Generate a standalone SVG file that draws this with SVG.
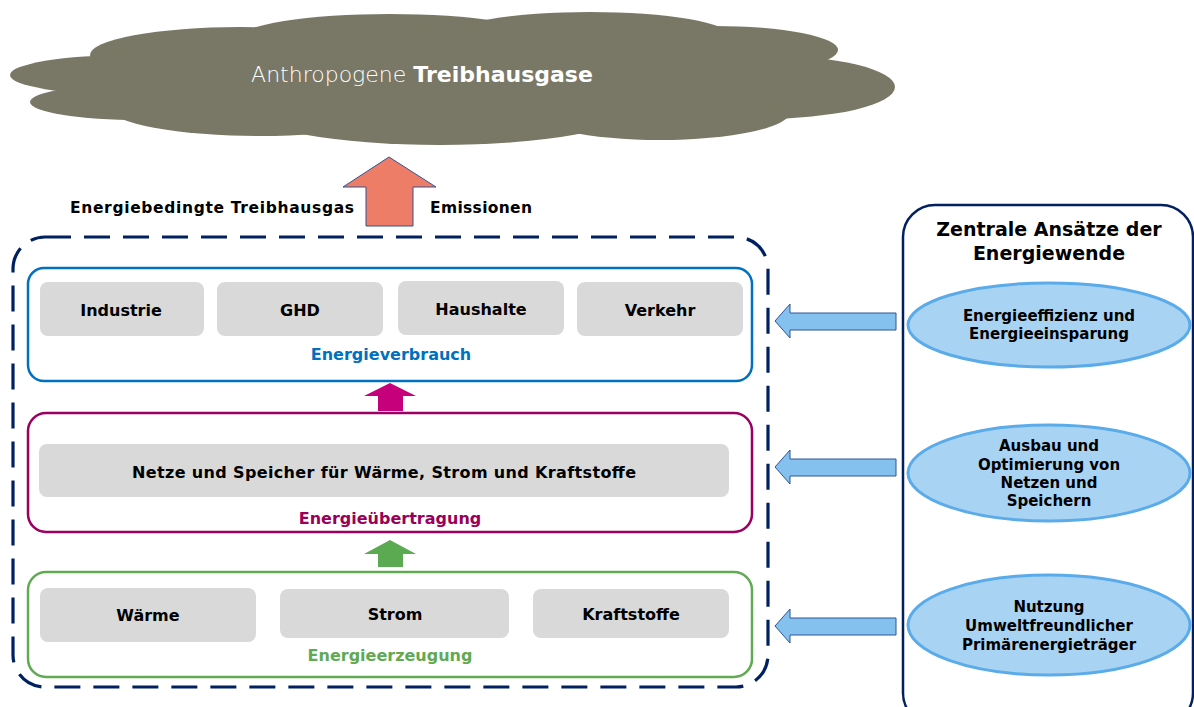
<svg xmlns="http://www.w3.org/2000/svg" width="1194" height="707" viewBox="0 0 1194 707">
<style>
.t{font-family:"DejaVu Sans","Liberation Sans",sans-serif;font-weight:bold;fill:#000;text-anchor:middle}
.gray{fill:#D9D9D9}
.cloud ellipse{fill:#797866}
.la{fill:#85C1EF;stroke:#2F5597;stroke-width:1}
.ell{fill:#A9D3F3;stroke:#5AABEA;stroke-width:3}
</style>
<rect width="1194" height="707" fill="#fff"/>
<g id="cloud" class="cloud">
<ellipse cx="130" cy="75" rx="120" ry="20"/>
<ellipse cx="140" cy="102" rx="110" ry="18"/>
<ellipse cx="240" cy="55" rx="150" ry="28"/>
<ellipse cx="390" cy="38" rx="150" ry="24"/>
<ellipse cx="590" cy="36" rx="140" ry="24"/>
<ellipse cx="715" cy="50" rx="123" ry="24"/>
<ellipse cx="760" cy="87" rx="135" ry="32"/>
<ellipse cx="660" cy="112" rx="130" ry="28"/>
<ellipse cx="440" cy="110" rx="190" ry="35"/>
<ellipse cx="260" cy="108" rx="150" ry="28"/>
<ellipse cx="450" cy="80" rx="390" ry="50"/>
<text x="422" y="82" style="font-family:'DejaVu Sans','Liberation Sans',sans-serif;font-size:22px;fill:#fff;text-anchor:middle"><tspan style="font-weight:200">Anthropogene</tspan> <tspan font-weight="bold">Treibhausgase</tspan></text>
</g>
<g id="emission-labels">
<text class="t" x="212" y="213" font-size="15.5" textLength="284">Energiebedingte Treibhausgas</text>
<text class="t" x="481" y="213" font-size="15.5" textLength="102">Emissionen</text>
</g>
<g id="system-boundary">
<rect x="13" y="237" width="755" height="450" rx="32" fill="none" stroke="#002060" stroke-width="3.2" stroke-dasharray="26 13"/>
</g>
<g id="energieverbrauch">
<rect x="28" y="268" width="724" height="113" rx="16" fill="#fff" stroke="#0070C0" stroke-width="2.5"/>
<rect class="gray" x="40" y="282" width="164" height="54" rx="8"/>
<rect class="gray" x="217" y="282" width="166" height="54" rx="8"/>
<rect class="gray" x="398" y="281" width="166" height="54" rx="8"/>
<rect class="gray" x="577" y="282" width="166" height="54" rx="8"/>
<text class="t" x="121" y="316" font-size="16">Industrie</text>
<text class="t" x="300" y="316" font-size="16">GHD</text>
<text class="t" x="481" y="315" font-size="16">Haushalte</text>
<text class="t" x="660" y="316" font-size="16">Verkehr</text>
<text class="t" x="391" y="360" font-size="16" style="fill:#0070C0">Energieverbrauch</text>
</g>
<g id="energieuebertragung">
<rect x="28" y="413" width="724" height="119" rx="18" fill="#fff" stroke="#9B0060" stroke-width="2.5"/>
<rect class="gray" x="39" y="444" width="690" height="53" rx="8"/>
<text class="t" x="384" y="478" font-size="16" textLength="504">Netze und Speicher für Wärme, Strom und Kraftstoffe</text>
<text class="t" x="390" y="524" font-size="16" style="fill:#99005A">Energieübertragung</text>
</g>
<g id="energieerzeugung">
<rect x="28" y="572" width="724" height="105" rx="18" fill="#fff" stroke="#5FAA52" stroke-width="2.5"/>
<rect class="gray" x="40" y="588" width="216" height="54" rx="8"/>
<rect class="gray" x="280" y="589" width="229" height="49" rx="8"/>
<rect class="gray" x="533" y="589" width="196" height="49" rx="8"/>
<text class="t" x="148" y="621" font-size="16">Wärme</text>
<text class="t" x="395" y="620" font-size="16">Strom</text>
<text class="t" x="631" y="620" font-size="16">Kraftstoffe</text>
<text class="t" x="390" y="661" font-size="16" style="fill:#5FAA52">Energieerzeugung</text>
</g>
<g id="energiewende">
<rect x="903" y="205" width="290" height="520" rx="32" fill="#fff" stroke="#002060" stroke-width="2.5"/>
<text class="t" x="1049" y="236" font-size="19">Zentrale Ansätze der</text>
<text class="t" x="1049" y="260" font-size="19">Energiewende</text>
</g>
<g id="ansatz-effizienz">
<ellipse class="ell" cx="1049" cy="325" rx="141" ry="42"/>
<text class="t" x="1049" y="321" font-size="15">Energieeffizienz  und</text>
<text class="t" x="1049" y="339" font-size="15">Energieeinsparung</text>
</g>
<g id="ansatz-netze">
<ellipse class="ell" cx="1049" cy="473" rx="141" ry="48"/>
<text class="t" x="1049" y="451" font-size="15">Ausbau und</text>
<text class="t" x="1049" y="470" font-size="15">Optimierung von</text>
<text class="t" x="1049" y="488" font-size="15">Netzen und</text>
<text class="t" x="1049" y="506" font-size="15">Speichern</text>
</g>
<g id="ansatz-primaer">
<ellipse class="ell" cx="1049" cy="625" rx="141" ry="50"/>
<text class="t" x="1049" y="612" font-size="15">Nutzung</text>
<text class="t" x="1049" y="631" font-size="15">Umweltfreundlicher</text>
<text class="t" x="1049" y="650" font-size="15">Primärenergieträger</text>
</g>
<g id="connectors">
<polygon points="389,157 436,187 413,187 413,226 366,226 366,187 343,187" fill="#ED7D67" stroke="#2F5597" stroke-width="1"/>
<polygon points="390,383 416,396 403,396 403,411 378,411 378,396 364,396" fill="#C5007A"/>
<polygon points="390,540 416,554 403,554 403,567 378,567 378,554 364,554" fill="#5BA950"/>
<polygon class="la" points="775,321 790,304 790,313 896,313 896,330 790,330 790,338"/>
<polygon class="la" points="775,467 790,450 790,459 896,459 896,476 790,476 790,484"/>
<polygon class="la" points="775,626 790,609 790,618 896,618 896,635 790,635 790,643"/>
</g>
</svg>
